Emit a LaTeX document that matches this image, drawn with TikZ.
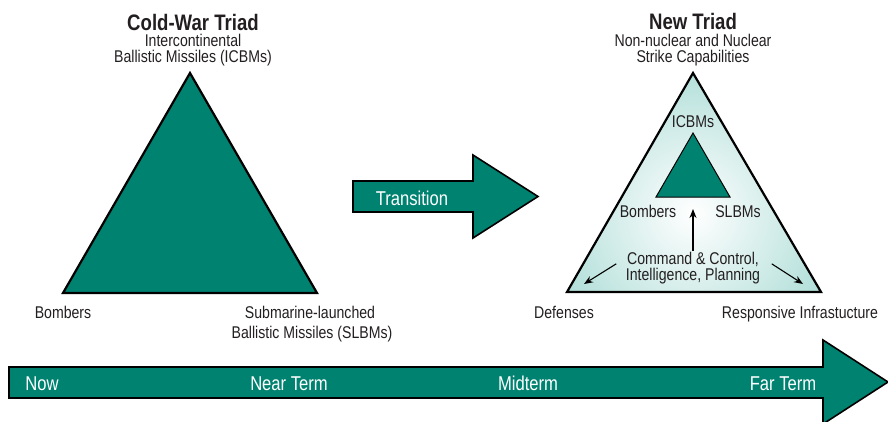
\documentclass[tikz,border=0pt]{standalone}
\usepackage{fontspec}
\setmainfont{Liberation Sans}[FakeStretch=0.83]
\usepackage{xcolor}
\usepackage{tikz}
\usetikzlibrary{arrows.meta}

\definecolor{triadgreen}{RGB}{0,130,113}
\definecolor{triadlight}{RGB}{120,199,189}
\definecolor{labelgray}{RGB}{35,31,32}

\tikzset{
  lbl/.style={anchor=base,inner sep=0pt,text height=11.5pt,text depth=2pt,text=labelgray,font=\fontsize{17}{17}\selectfont},
  ttl/.style={anchor=base,inner sep=0pt,text=labelgray,font=\fontsize{22.4}{22}\selectfont\bfseries},
  wlbl/.style={anchor=base,inner sep=0pt,text=white,font=\fontsize{20}{20}\selectfont},
  ptr/.style={-{Stealth[length=9pt,width=7pt]},line width=1.1pt,shorten <=2pt}
}

\begin{document}
\begin{tikzpicture}[x=1pt,y=-1pt]

\useasboundingbox (0,0) rectangle (888,421);

% alte Triade links
\draw[fill=triadgreen,line width=2.2pt] (190,73) -- (63,293) -- (317,293) -- cycle;	% grosses Dreieck
\node (oldttl) at (193,30) [ttl] {Cold-War Triad};
\node (icbm1) at (193,46.5) [lbl] {Intercontinental};
\node (icbm2) at (193,62) [lbl] {Ballistic Missiles (ICBMs)};
\node (bomb) at (63,318) [lbl] {Bombers};
\node (slbm1) at (310,318) [lbl] {Submarine-launched};
\node (slbm2) at (312,338) [lbl] {Ballistic Missiles (SLBMs)};

% Uebergangspfeil
\draw[fill=triadgreen,line width=1.6pt] (353,181) -- (473,181) -- (473,155) -- (538,196.5) -- (473,238) -- (473,212) -- (353,212) -- cycle;
\node (trans) at (412,205) [wlbl] {Transition};

% neue Triade rechts
\begin{scope}
  \clip (693,73) -- (567,292) -- (821,292) -- cycle;
  \shade[inner color=white,outer color=triadlight] (693,213) circle (255);	% Verlauf
\end{scope}
\draw[line width=2.2pt] (693,73) -- (567,292) -- (821,292) -- cycle;		% aeusseres Dreieck
\draw[fill=triadgreen,line width=1pt] (693,133) -- (656,197) -- (730,197) -- cycle;	% inneres Dreieck

\node (newttl) at (693,29) [ttl] {New Triad};
\node (strike1) at (693,46.5) [lbl] {Non-nuclear and Nuclear};
\node (strike2) at (693,62) [lbl] {Strike Capabilities};
\node (icbm) at (693,127) [lbl] {ICBMs};
\node (bombin) at (648,217) [lbl] {Bombers};
\node (slbmin) at (738,217) [lbl] {SLBMs};
\node (cc1) at (693,264.5) [lbl] {Command \& Control,};
\node (cc2) at (693,280.5) [lbl] {Intelligence, Planning};
\node (def) at (564,318) [lbl] {Defenses};
\node (infra) at (800,318) [lbl] {Responsive Infrastucture};

\coordinate (up) at (693,209);
\coordinate (dl) at (584,284);
\coordinate (dr) at (803,284);
\draw[ptr] (cc1.north) -- (up);
\draw[ptr] ([shift={(-9,3)}]cc1.west) -- (dl);
\draw[ptr] ([shift={(11,3)}]cc1.east) -- (dr);

% Zeitachse
\draw[fill=triadgreen,line width=1.6pt] (9,367) -- (823,367) -- (823,340) -- (888,382) -- (823,424) -- (823,398) -- (9,398) -- cycle;
\node (now) at (42,390) [wlbl] {Now};
\node (near) at (289,390) [wlbl] {Near Term};
\node (mid) at (528,390) [wlbl] {Midterm};
\node (far) at (783,390) [wlbl] {Far Term};

\end{tikzpicture}
\end{document}
